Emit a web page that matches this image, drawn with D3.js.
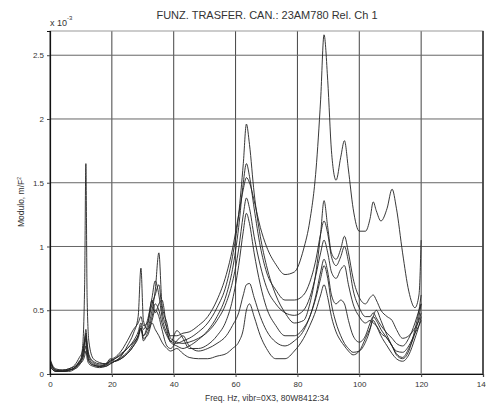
<!DOCTYPE html>
<html>
<head>
<meta charset="utf-8">
<script src="https://cdn.jsdelivr.net/npm/d3@7"></script>
<style>
  html, body { margin: 0; padding: 0; background: #fff; overflow: hidden; }
  text { font-family: "Liberation Sans", "DejaVu Sans", sans-serif; fill: #333; }
</style>
</head>
<body>
<svg id="chart" width="486" height="408"></svg>
<script>
// frequency grid (Hz) shared by every curve
const freq = [0, 1, 2, 4, 6, 8,
  9.5, 10.5, 11.2, 11.6, 12, 12.6,
  14, 16, 18, 19.5, 21, 23,
  25, 27, 28.5, 29.4, 30.2, 31.5,
  33, 34, 35.2, 36.2, 37.8, 39,
  41, 43, 45, 48, 51, 54,
  57, 59, 61, 62.5, 63.5, 64.5,
  66, 68, 70, 73, 76, 79,
  82, 84, 86, 87.5, 88.6, 89.8,
  91, 92.5, 94, 95.2, 96.5, 98,
  100, 102, 103.5, 104.5, 105.5, 107,
  109, 110.6, 112, 114, 116, 118,
  119.3, 120];

// modulus, x 10^-3
const curve1 = [0.10, 0.05, 0.03, 0.03, 0.04, 0.06,
  0.09, 0.14, 0.25, 0.32, 0.22, 0.14,
  0.09, 0.07, 0.07, 0.09, 0.10, 0.13,
  0.17, 0.24, 0.30, 0.36, 0.30, 0.38,
  0.55, 0.62, 0.70, 0.50, 0.36, 0.30,
  0.30, 0.32, 0.33, 0.38, 0.45, 0.58,
  0.78, 0.98, 1.25, 1.45, 1.54, 1.50,
  1.36, 1.15, 1.00, 0.86, 0.78, 0.80,
  0.98, 1.20, 1.60, 2.15, 2.66, 2.30,
  1.75, 1.52, 1.70, 1.83, 1.60, 1.30,
  1.12, 1.12, 1.22, 1.35, 1.28, 1.20,
  1.30, 1.45, 1.30, 0.95, 0.65, 0.52,
  0.62, 1.05];
const curve2 = [0.12, 0.06, 0.04, 0.03, 0.03, 0.05,
  0.08, 0.20, 0.70, 1.65, 0.60, 0.25,
  0.12, 0.09, 0.08, 0.10, 0.12, 0.16,
  0.20, 0.26, 0.33, 0.40, 0.35, 0.42,
  0.60, 0.73, 0.62, 0.45, 0.32, 0.26,
  0.24, 0.26, 0.28, 0.33, 0.40, 0.52,
  0.70, 0.92, 1.25, 1.65, 1.96, 1.80,
  1.42, 1.08, 0.85, 0.62, 0.48, 0.40,
  0.42, 0.55, 0.80, 1.10, 1.36, 1.15,
  0.95, 0.90, 0.98, 1.08, 0.95, 0.75,
  0.60, 0.55, 0.60, 0.62, 0.58, 0.50,
  0.45, 0.42, 0.35, 0.28, 0.30, 0.36,
  0.42, 0.48];
const curve3 = [0.08, 0.04, 0.02, 0.02, 0.03, 0.05,
  0.10, 0.15, 0.25, 0.30, 0.20, 0.12,
  0.08, 0.06, 0.06, 0.08, 0.10, 0.14,
  0.22, 0.32, 0.45, 0.83, 0.42, 0.35,
  0.45, 0.55, 0.50, 0.40, 0.30, 0.25,
  0.22, 0.20, 0.22, 0.27, 0.34, 0.45,
  0.62, 0.82, 1.15, 1.50, 1.65, 1.55,
  1.30, 1.00, 0.80, 0.66, 0.58, 0.58,
  0.62, 0.72, 0.90, 1.10, 1.20, 1.10,
  0.92, 0.85, 0.92, 1.00, 0.88, 0.66,
  0.52, 0.45, 0.45, 0.48, 0.44, 0.38,
  0.32, 0.28, 0.24, 0.22, 0.28, 0.40,
  0.50, 0.55];
const curve4 = [0.09, 0.05, 0.03, 0.03, 0.04, 0.07,
  0.13, 0.18, 0.28, 0.35, 0.25, 0.15,
  0.10, 0.08, 0.08, 0.12, 0.10, 0.12,
  0.16, 0.22, 0.28, 0.35, 0.30, 0.35,
  0.50, 0.65, 0.95, 0.55, 0.40, 0.28,
  0.25, 0.24, 0.25, 0.28, 0.33, 0.42,
  0.56, 0.72, 0.98, 1.25, 1.38, 1.30,
  1.08, 0.85, 0.68, 0.55, 0.48, 0.46,
  0.50, 0.60, 0.78, 0.95, 1.05, 0.95,
  0.80, 0.75, 0.82, 0.85, 0.70, 0.55,
  0.45, 0.40, 0.42, 0.40, 0.38, 0.32,
  0.28, 0.22, 0.18, 0.17, 0.22, 0.32,
  0.38, 0.42];
const curve5 = [0.11, 0.05, 0.03, 0.02, 0.03, 0.04,
  0.07, 0.12, 0.20, 0.28, 0.18, 0.10,
  0.07, 0.06, 0.07, 0.11, 0.13, 0.18,
  0.26, 0.35, 0.40, 0.45, 0.38, 0.40,
  0.58, 0.48, 0.55, 0.58, 0.35, 0.25,
  0.34, 0.28, 0.20, 0.20, 0.23, 0.30,
  0.42, 0.58, 0.85, 1.12, 1.26, 1.18,
  0.95, 0.70, 0.52, 0.38, 0.30, 0.30,
  0.36, 0.45, 0.62, 0.80, 0.90, 0.80,
  0.62, 0.55, 0.58, 0.55, 0.42, 0.30,
  0.25, 0.30, 0.40, 0.45, 0.42, 0.35,
  0.28, 0.22, 0.16, 0.13, 0.20, 0.32,
  0.45, 0.55];
const curve6 = [0.07, 0.03, 0.02, 0.02, 0.03, 0.05,
  0.10, 0.12, 0.18, 0.22, 0.15, 0.10,
  0.07, 0.06, 0.08, 0.10, 0.12, 0.15,
  0.20, 0.25, 0.30, 0.38, 0.28, 0.30,
  0.42, 0.50, 0.45, 0.35, 0.22, 0.20,
  0.26, 0.30, 0.22, 0.18, 0.20, 0.24,
  0.30, 0.38, 0.48, 0.62, 0.70, 0.71,
  0.60, 0.45, 0.34, 0.25, 0.22, 0.26,
  0.34, 0.45, 0.60, 0.75, 0.85, 0.75,
  0.55, 0.40, 0.30, 0.24, 0.20, 0.17,
  0.18, 0.25, 0.35, 0.45, 0.50, 0.42,
  0.30, 0.22, 0.15, 0.12, 0.18, 0.35,
  0.50, 0.62];
const curve7 = [0.06, 0.03, 0.02, 0.02, 0.02, 0.04,
  0.08, 0.10, 0.14, 0.18, 0.12, 0.08,
  0.06, 0.05, 0.06, 0.08, 0.10, 0.12,
  0.16, 0.22, 0.30, 0.36, 0.26, 0.32,
  0.40, 0.35, 0.30, 0.25, 0.20, 0.18,
  0.20, 0.16, 0.13, 0.12, 0.12, 0.14,
  0.16, 0.20, 0.25, 0.35, 0.50, 0.55,
  0.45, 0.30, 0.20, 0.12, 0.12, 0.18,
  0.28, 0.38, 0.50, 0.62, 0.70, 0.60,
  0.45, 0.33, 0.26, 0.22, 0.18, 0.15,
  0.18, 0.28, 0.36, 0.42, 0.38, 0.30,
  0.22, 0.16, 0.12, 0.10, 0.15, 0.28,
  0.38, 0.45];

const xTicks = [0, 20, 40, 60, 80, 100, 120, 140];
const yTicks = [0, 0.5, 1, 1.5, 2, 2.5];
const yTickLabels = ["0", "0.5", "1", "1.5", "2", "2.5"];

const titleText = "FUNZ. TRASFER. CAN.: 23AM780 Rel. Ch 1";
const xLabelText = "Freq. Hz, vibr=0X3, 80W8412:34";
const yLabelText = "Modulo, m/F";

const series = [curve1, curve2, curve3, curve4, curve5, curve6, curve7];

const svg = d3.select("#chart");
const margin = {top: 31, right: 3, bottom: 34, left: 50};
const W = 486, H = 408;

const x = d3.scaleLinear().domain([0, 140]).range([margin.left, W - margin.right]);
const y = d3.scaleLinear().domain([0, 2.69]).range([H - margin.bottom, margin.top]);

// grid
svg.append("g")
  .selectAll("line")
  .data(xTicks)
  .join("line")
  .attr("x1", d => x(d)).attr("x2", d => x(d))
  .attr("y1", y.range()[1]).attr("y2", y.range()[0])
  .attr("stroke", "#444").attr("stroke-width", 1);

svg.append("g")
  .selectAll("line")
  .data(yTicks)
  .join("line")
  .attr("x1", x.range()[0]).attr("x2", x.range()[1])
  .attr("y1", d => y(d)).attr("y2", d => y(d))
  .attr("stroke", "#666").attr("stroke-width", 1);

// frame
svg.append("rect")
  .attr("x", x.range()[0]).attr("y", y.range()[1])
  .attr("width", x.range()[1] - x.range()[0])
  .attr("height", y.range()[0] - y.range()[1])
  .attr("fill", "none").attr("stroke", "#999").attr("stroke-width", 1);

// curves
svg.append("clipPath").attr("id", "clip")
  .append("rect")
  .attr("x", x.range()[0]).attr("y", y.range()[1])
  .attr("width", x.range()[1] - x.range()[0])
  .attr("height", y.range()[0] - y.range()[1]);

const line = d3.line()
  .x((d, i) => x(freq[i]))
  .y(d => y(d))
  .curve(d3.curveMonotoneX);

svg.append("g").attr("clip-path", "url(#clip)")
  .selectAll("path")
  .data(series)
  .join("path")
  .attr("d", line)
  .attr("fill", "none")
  .attr("stroke", "#222")
  .attr("stroke-width", 0.9);

// axes
const xAxis = svg.append("g")
  .attr("transform", `translate(0,${y.range()[0]})`)
  .call(d3.axisBottom(x).tickValues(xTicks).tickSize(3).tickFormat(d3.format("d")));
const yAxis = svg.append("g")
  .attr("transform", `translate(${x.range()[0]},0)`)
  .call(d3.axisLeft(y).tickValues(yTicks).tickSize(3).tickFormat((d, i) => yTickLabels[i]));

[xAxis, yAxis].forEach(a => {
  a.select(".domain").attr("stroke", "#111").attr("stroke-width", 1.2);
  a.selectAll(".tick line").attr("stroke", "#444");
  a.selectAll("text").style("font-size", "8px").attr("fill", "#444");
});
xAxis.selectAll("text").attr("dy", "0.9em");

// right edge
svg.append("line")
  .attr("x1", x.range()[1]).attr("x2", x.range()[1])
  .attr("y1", y.range()[1]).attr("y2", y.range()[0])
  .attr("stroke", "#222").attr("stroke-width", 1.2);

// texts
svg.append("text")
  .attr("x", 267).attr("y", 19)
  .attr("text-anchor", "middle")
  .style("font-size", "11px")
  .text(titleText);

const exp = svg.append("text").attr("x", 50).attr("y", 26).style("font-size", "9px");
exp.append("tspan").text("x 10");
exp.append("tspan").attr("dy", -6).style("font-size", "6px").text("-3");

svg.append("text")
  .attr("transform", "translate(24,202) rotate(-90)")
  .attr("text-anchor", "middle")
  .style("font-size", "8.5px")
  .text(yLabelText)
  .append("tspan").attr("dy", -3).style("font-size", "5px").text("2");

svg.append("text")
  .attr("x", 267).attr("y", 401)
  .attr("text-anchor", "middle")
  .style("font-size", "8.5px")
  .text(xLabelText);
</script>
</body>
</html>
